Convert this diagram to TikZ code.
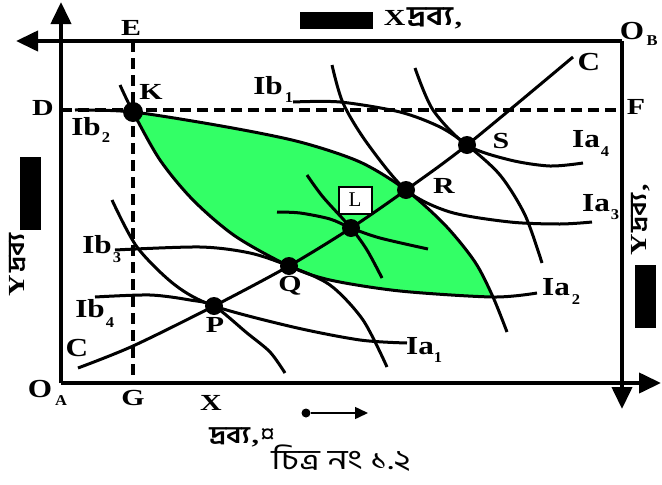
\documentclass[tikz,border=0pt]{standalone}
\usepackage{fontspec}
\setmainfont{Liberation Serif}
\newfontfamily\bn[Script=Bengali]{Hind Siliguri}
\usetikzlibrary{arrows.meta}
\definecolor{lens}{RGB}{51,255,102}
\newcommand{\lbl}[1]{\scalebox{1.3}[1]{\fontsize{23}{23}\selectfont\bfseries #1}}
\newcommand{\biglbl}[1]{\scalebox{1.2}[1]{\fontsize{26}{26}\selectfont\bfseries #1}}
\newcommand{\sbl}[1]{\scalebox{1.1}[1]{\fontsize{15}{15}\selectfont\bfseries #1}}
\newcommand{\bnt}[2]{\scalebox{1.2}[1]{\fontsize{#1}{#1}\selectfont\bn\bfseries #2}}
\begin{document}
\begin{tikzpicture}[x=1pt,y=-1pt,
  curve/.style={line width=3pt},
  frame/.style={line width=4pt},
  guide/.style={line width=3.2pt,dash pattern=on 11pt off 6pt},
  tip/.style={-{Triangle[length=22pt,width=20pt]}},
  lab/.style={inner sep=0pt,anchor=center},
  dot/.style={circle,fill=black,inner sep=0pt,minimum size=18pt}]
\useasboundingbox (0,0) rectangle (662,485);

% key points
\coordinate (K) at (133,112);
\coordinate (P) at (214,306);
\coordinate (Q) at (289,266);
\coordinate (Lp) at (351,228);
\coordinate (R) at (406,190);
\coordinate (S) at (467,145);
\coordinate (C1) at (78,368);
\coordinate (C2) at (573,57);

% lens fill
\begin{scope}
\clip plot[smooth] coordinates {(75,110) (K) (227,127) (300,142) (360,162) (R) (445,225) (475,262) (493,297) (507,332)} -- (507,470) -- (0,470) -- (0,110) -- cycle;
\fill[lens] plot[smooth] coordinates {(120,85) (K) (160,160) (193,200) (235,236) (Q) (330,280) (400,291) (493,297) (537,293)} -- (662,293) -- (662,0) -- (120,0) -- cycle;
\end{scope}

% guide lines
\draw[guide] (133,41) -- (133,383);
\draw[guide] (61,110) -- (622,110);

% frame
\draw[frame,tip] (61,383) -- (61,2);
\draw[frame,tip] (622,41) -- (16,41);
\draw[frame,tip] (622,41) -- (622,409);
\draw[frame,tip] (61,383) -- (661,383);

% contract curve
\draw[curve] plot[smooth] coordinates {(C1) (133,346) (P) (Q) (Lp) (R) (S) (C2)};

% indifference curves of A
\draw[curve] plot[smooth] coordinates {(112,200) (137,247) (175,285) (P) (293,327) (360,340) (407,343)};
\draw[curve] plot[smooth] coordinates {(120,85) (K) (160,160) (193,200) (235,236) (Q) (330,280) (400,291) (493,297) (537,293)};
\draw[curve] plot[smooth] coordinates {(332,65) (343,103) (367,143) (R) (450,212) (510,222) (560,224) (592,222)};
\draw[curve] plot[smooth] coordinates {(415,68) (433,110) (S) (510,160) (550,166) (583,163)};
% indifference curves of B
\draw[curve] plot[smooth] coordinates {(293,102) (340,102) (400,112) (440,127) (S) (500,175) (525,215) (542,263)};
\draw[curve] plot[smooth] coordinates {(75,110) (K) (227,127) (300,142) (360,162) (R) (445,225) (475,262) (493,297) (507,332)};
\draw[curve] plot[smooth] coordinates {(115,250) (200,247) (250,253) (Q) (330,285) (363,320) (387,367)};
\draw[curve] plot[smooth] coordinates {(95,297) (150,295) (190,300) (P) (247,333) (270,352) (285,373)};
% curves at L
\draw[curve] plot[smooth] coordinates {(307,175) (323,197) (Lp) (367,250) (382,278)};
\draw[curve] plot[smooth] coordinates {(277,212) (300,213) (330,219) (Lp) (380,238) (428,249)};

% dots
\node[dot,minimum size=20pt] (dK) at (K) {};
\node[dot] (dP) at (P) {};
\node[dot] (dQ) at (Q) {};
\node[dot] (dL) at (Lp) {};
\node[dot] (dR) at (R) {};
\node[dot] (dS) at (S) {};

% labels
\node[lab] (tE) at (131,28) {\lbl{E}};
\node[lab] (tK) at (151,92) {\lbl{K}};
\node[lab] (tD) at (43,108) {\lbl{D}};
\node[lab] (tF) at (636,107) {\lbl{F}};
\node[lab] (tG) at (133,398) {\lbl{G}};
\node[lab] (tX) at (211,403) {\lbl{X}};
\node[lab] (tP) at (215,325) {\lbl{P}};
\node[lab] (tQ) at (290,286) {\lbl{Q}};
\node[lab] (tR) at (444,186) {\lbl{R}};
\node[lab] (tS) at (501,141) {\lbl{S}};
\node[lab] (tC1) at (77,348) {\biglbl{C}};
\node[lab] (tC2) at (589,62) {\biglbl{C}};
\node[lab] (tOA) at (40,389) {\biglbl{O}};
\node[lab] (tOAs) at (61,401) {\sbl{A}};
\node[lab] (tOB) at (632,31) {\biglbl{O}};
\node[lab] (tOBs) at (652,41) {\sbl{B}};
\node[draw,line width=2pt,fill=white,minimum width=33pt,minimum height=27pt,inner sep=0pt] (tL) at (355,200) {\fontsize{21}{21}\selectfont L};

\node[lab] (ib1) at (268,86) {\biglbl{Ib}};
\node[lab] (ib1s) at (289,98) {\sbl{1}};
\node[lab] (ib2) at (86,127) {\biglbl{Ib}};
\node[lab] (ib2s) at (106,138) {\sbl{2}};
\node[lab] (ib3) at (97,245) {\biglbl{Ib}};
\node[lab] (ib3s) at (117,258) {\sbl{3}};
\node[lab] (ib4) at (90,309) {\biglbl{Ib}};
\node[lab] (ib4s) at (110,323) {\sbl{4}};
\node[lab] (ia1) at (420,346) {\biglbl{Ia}};
\node[lab] (ia1s) at (438,358) {\sbl{1}};
\node[lab] (ia2) at (556,287) {\biglbl{Ia}};
\node[lab] (ia2s) at (576,300) {\sbl{2}};
\node[lab] (ia3) at (596,203) {\biglbl{Ia}};
\node[lab] (ia3s) at (615,215) {\sbl{3}};
\node[lab] (ia4) at (586,139) {\biglbl{Ia}};
\node[lab] (ia4s) at (605,152) {\sbl{4}};

% axis captions
\fill (300,12) rectangle (373,29);
\node[lab] (capX) at (423,18) {\lbl{X}\,\bnt{27}{দ্রব্য}\,\lbl{,}};
\fill (20,157) rectangle (41,230);
\node[lab,rotate=90] (capYl) at (18,265) {\lbl{Y}\,\bnt{23}{দ্রব্য}};
\fill (635,265) rectangle (656,328);
\node[lab,rotate=90] (capYr) at (641,220) {\lbl{Y}\,\bnt{23}{দ্রব্য}\,\lbl{,}};

% arrow below
\node[circle,fill=black,inner sep=0pt,minimum size=9pt] (ad) at (306,413) {};
\coordinate (ae) at (368,413);
\draw[line width=1.5pt,-{Triangle[length=13pt,width=12pt]}] (ad) -- (ae);

\node[lab] (capB) at (242,437) {\bnt{24}{দ্রব্য}\,\lbl{,}\,{\fontsize{28}{28}\selectfont\bfseries ¤}};
\node[lab] (fig) at (341,458) {\scalebox{1.25}[1]{\fontsize{28}{28}\selectfont\bn চিত্র নং ১.২}};
\end{tikzpicture}
\end{document}
